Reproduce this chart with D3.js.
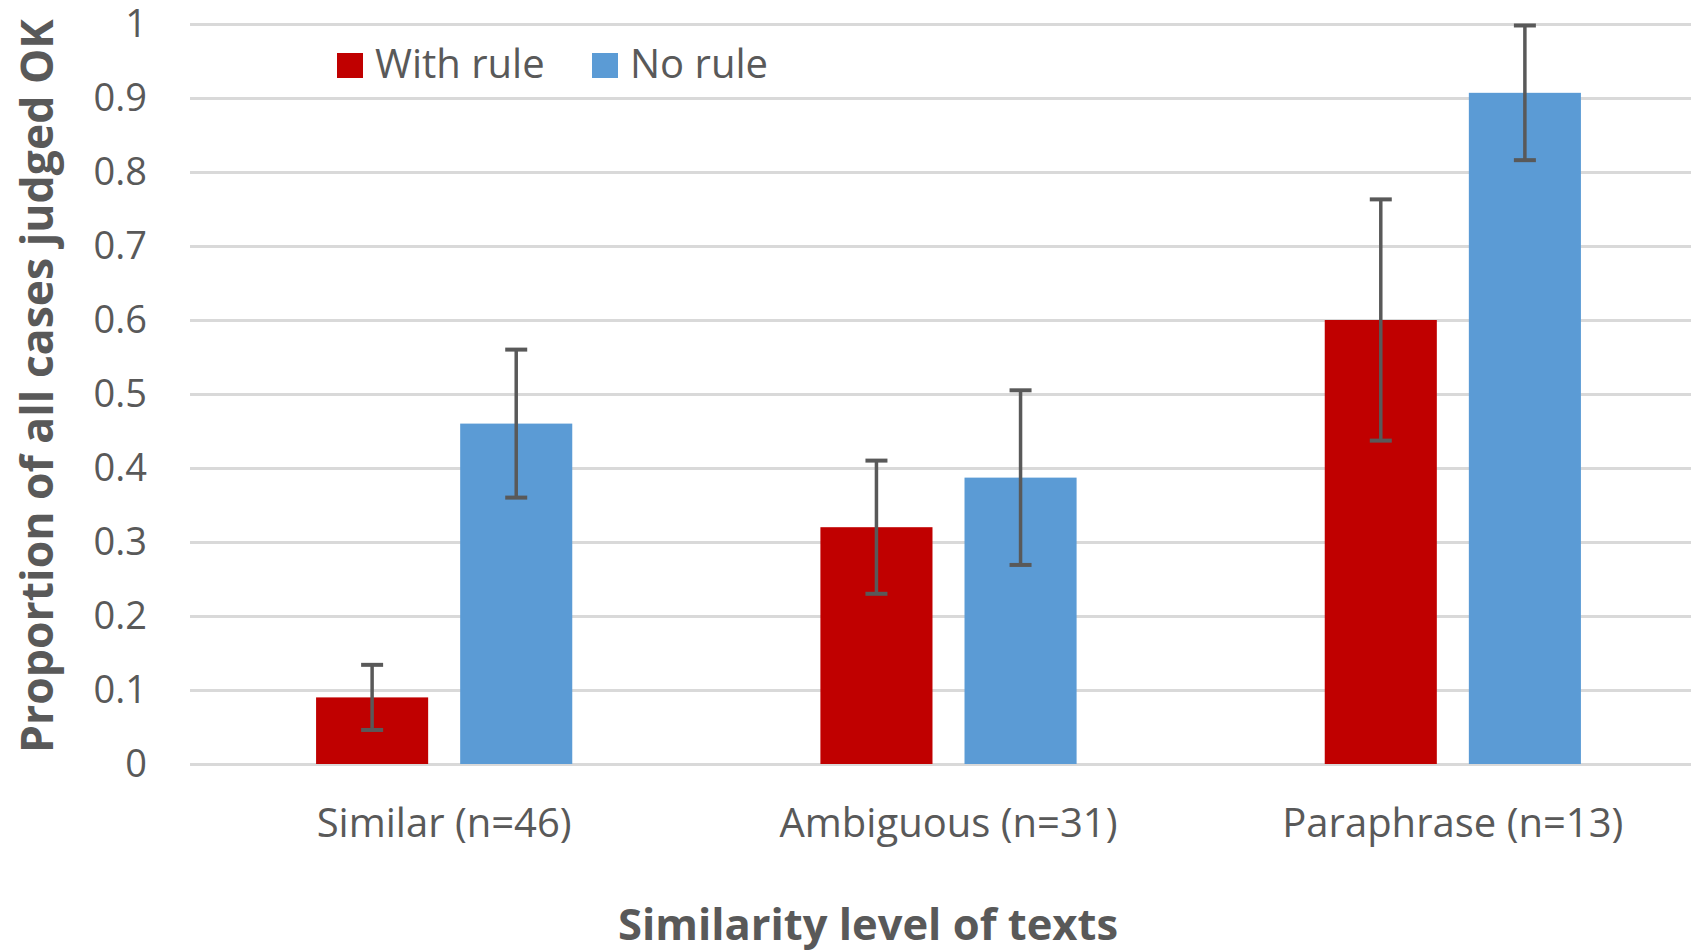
<!DOCTYPE html>
<html>
<head>
<meta charset="utf-8">
<script src="https://cdn.jsdelivr.net/npm/d3@7"></script>
<style>
  body { margin: 0; background: #fff; }
  svg { display: block; font-family: "Open Sans", "Noto Sans", sans-serif; }
</style>
</head>
<body>
<div id="chart"></div>
<script>
// data
var categories = ["Similar (n=46)", "Ambiguous (n=31)", "Paraphrase (n=13)"];
var seriesNames = ["With rule", "No rule"];
var withRule = [0.09, 0.32, 0.60];
var withRuleErr = [0.044, 0.09, 0.163];
var noRule = [0.46, 0.387, 0.907];
var noRuleErr = [0.10, 0.118, 0.091];
var yTicks = [0, 0.1, 0.2, 0.3, 0.4, 0.5, 0.6, 0.7, 0.8, 0.9, 1];
var yTickLabels = ["0", "0.1", "0.2", "0.3", "0.4", "0.5", "0.6", "0.7", "0.8", "0.9", "1"];

var colors = ["#c00000", "#5b9bd5"];
var textColor = "#595959";
var gridColor = "#d9d9d9";

var width = 1691, height = 952;
var plotLeft = 190, plotTop = 24, plotBottom = 764;

var rows = categories.map(function(c, i) {
  return {
    cat: c,
    bars: [
      { s: 0, v: withRule[i], e: withRuleErr[i] },
      { s: 1, v: noRule[i], e: noRuleErr[i] }
    ]
  };
});

var svg = d3.select("#chart").append("svg")
  .attr("width", width)
  .attr("height", height);

var x = d3.scaleBand()
  .domain(categories)
  .range([192, 1705])
  .paddingInner(0)
  .paddingOuter(0);

var xInner = d3.scaleBand()
  .domain([0, 1])
  .range([0, x.bandwidth()])
  .paddingInner(0.2222)
  .paddingOuter(0.861);

var y = d3.scaleLinear()
  .domain([0, 1])
  .range([plotBottom, plotTop]);

// gridlines + y labels
var yAxis = svg.append("g")
  .attr("transform", "translate(" + plotLeft + ",0)")
  .call(d3.axisLeft(y)
    .tickValues(yTicks)
    .tickFormat(function(d, i) { return yTickLabels[i]; })
    .tickSizeInner(-(width - plotLeft))
    .tickSizeOuter(0)
    .tickPadding(43));
yAxis.select(".domain").remove();
yAxis.selectAll(".tick line")
  .attr("stroke", gridColor)
  .attr("stroke-width", 3);
yAxis.selectAll(".tick text")
  .attr("fill", textColor)
  .style("font-size", "38px")
  .style("font-family", "'Open Sans', sans-serif");

// bars
var groups = svg.append("g").selectAll("g")
  .data(rows)
  .enter().append("g")
  .attr("transform", function(d) { return "translate(" + x(d.cat) + ",0)"; });

groups.selectAll("rect")
  .data(function(d) { return d.bars; })
  .enter().append("rect")
  .attr("x", function(d) { return xInner(d.s); })
  .attr("width", xInner.bandwidth())
  .attr("y", function(d) { return y(d.v); })
  .attr("height", function(d) { return y(0) - y(d.v); })
  .attr("fill", function(d) { return colors[d.s]; });

// error bars
var capHalf = 11;
var err = groups.selectAll("g.err")
  .data(function(d) { return d.bars; })
  .enter().append("g")
  .attr("class", "err")
  .attr("stroke", textColor)
  .attr("stroke-width", 3.5);
err.append("line")
  .attr("x1", function(d) { return xInner(d.s) + xInner.bandwidth() / 2; })
  .attr("x2", function(d) { return xInner(d.s) + xInner.bandwidth() / 2; })
  .attr("y1", function(d) { return y(d.v + d.e); })
  .attr("y2", function(d) { return y(d.v - d.e); });
[1, -1].forEach(function(sign) {
  err.append("line")
    .attr("x1", function(d) { return xInner(d.s) + xInner.bandwidth() / 2 - capHalf; })
    .attr("x2", function(d) { return xInner(d.s) + xInner.bandwidth() / 2 + capHalf; })
    .attr("y1", function(d) { return y(d.v + sign * d.e); })
    .attr("y2", function(d) { return y(d.v + sign * d.e); })
    .attr("stroke-width", 4);
});

// category labels
var xAxis = svg.append("g")
  .attr("transform", "translate(0," + plotBottom + ")")
  .call(d3.axisBottom(x).tickSize(0));
xAxis.select(".domain").remove();
xAxis.selectAll(".tick text")
  .attr("y", 73)
  .attr("dy", 0)
  .attr("fill", textColor)
  .style("font-size", "40px")
  .style("font-family", "'Open Sans', sans-serif");

// axis titles
svg.append("text")
  .attr("x", 868)
  .attr("y", 940)
  .attr("text-anchor", "middle")
  .attr("fill", textColor)
  .style("font-size", "43.5px")
  .style("font-weight", "bold")
  .text("Similarity level of texts");

svg.append("text")
  .attr("transform", "translate(53,386) rotate(-90)")
  .attr("text-anchor", "middle")
  .attr("fill", textColor)
  .style("font-size", "44.5px")
  .style("font-weight", "bold")
  .text("Proportion of all cases judged OK");

// legend
var legendX = [337, 592];
var legend = svg.append("g").selectAll("g")
  .data(seriesNames)
  .enter().append("g")
  .attr("transform", function(d, i) { return "translate(" + legendX[i] + ",53)"; });
legend.append("rect")
  .attr("width", 26)
  .attr("height", 25)
  .attr("fill", function(d, i) { return colors[i]; });
legend.append("text")
  .attr("x", 38)
  .attr("y", 25)
  .attr("fill", textColor)
  .style("font-size", "40px")
  .text(function(d) { return d; });
</script>
</body>
</html>
